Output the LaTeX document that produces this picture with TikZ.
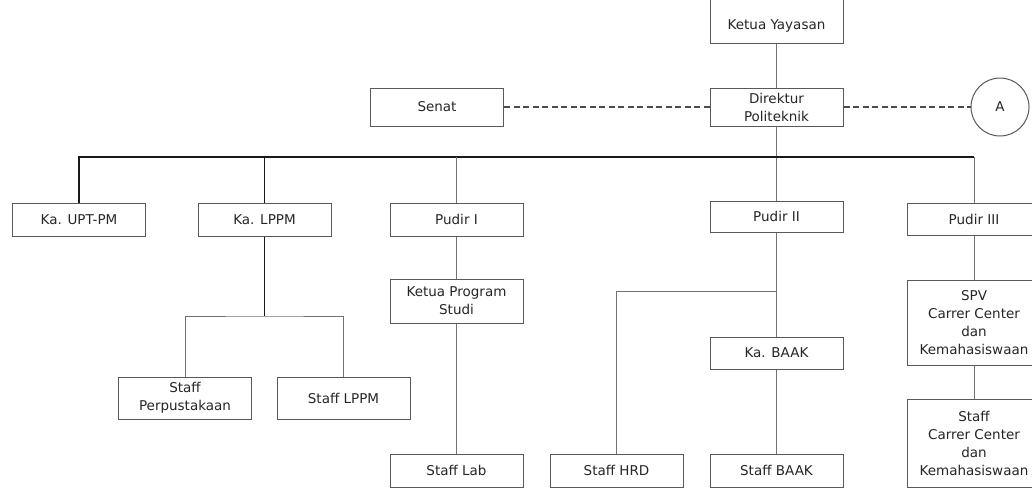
\documentclass[tikz,border=0pt]{standalone}
\usepackage{fontspec}
\setmainfont{DejaVu Sans}
\usetikzlibrary{positioning}
\begin{document}
\begin{tikzpicture}[x=1pt, y=-1pt, line/.style={draw=black!55, line width=0.9pt}, bus/.style={draw=black!90, line width=1.3pt}, dashline/.style={draw=black!70, line width=1.2pt, dash pattern=on 6pt off 3.5pt}, every node/.style={font=\fontsize{13.5}{18}\selectfont, text=black!85}]
% Define styles for unit boxes and the connector circle
\tikzstyle{unit} = [draw=black!65, line width=1pt, fill=white, rectangle, minimum width=133pt, minimum height=33pt, align=center, inner sep=2pt]
\tikzstyle{link} = [draw=black!65, line width=1pt, fill=white, circle, minimum size=58pt]

\path[use as bounding box, clip] (0,0) rectangle (1032,488);

% Nodes placement
\node [unit, minimum height=46pt, text height=22pt, text depth=3pt] (ketua) at (776.5,20) {Ketua Yayasan};
\node [unit, minimum height=38pt] (direktur) at (776.5,107) {Direktur\\Politeknik};
\node [unit, minimum height=38pt] (senat) at (437,107) {Senat};
\node [link] (A) at (1000,107) {A};

\node [unit] (upt) at (79,219.5) {Ka. UPT-PM};
\node [unit] (lppm) at (264.5,219.5) {Ka. LPPM};
\node [unit] (pudir1) at (456.5,219.5) {Pudir I};
\node [unit, minimum height=31pt] (pudir2) at (776.5,216.5) {Pudir II};
\node [unit, minimum height=32pt] (pudir3) at (974,219) {Pudir III};

\node [unit, minimum height=42pt] (perpus) at (185,398) {Staff\\Perpustakaan};
\node [unit, minimum height=42pt] (stafflppm) at (343.5,398) {Staff LPPM};
\node [unit, minimum height=44pt] (kaprodi) at (456.5,301) {Ketua Program\\Studi};
\node [unit] (stafflab) at (456.5,470.5) {Staff Lab};
\node [unit, minimum height=32pt] (kabaak) at (776.5,353) {Ka. BAAK};
\node [unit] (staffhrd) at (616.5,470.5) {Staff HRD};
\node [unit] (staffbaak) at (776.5,470.5) {Staff BAAK};
\node [unit, minimum height=85pt] (spv) at (974,322.5) {SPV\\Carrer Center\\dan\\Kemahasiswaan};
\node [unit, minimum height=88pt] (staffcc) at (974,443) {Staff\\Carrer Center\\dan\\Kemahasiswaan};

\coordinate (busR) at (974,157);
\coordinate (lppmfork) at (264.5,316);
\coordinate (hrdfork) at (776.5,291);

% Draw edges
\draw[line] (ketua) -- (direktur);
\draw[line] (direktur) -- (pudir2);
\draw[dashline] (senat) -- (direktur);
\draw[dashline] (direktur) -- (A);
\draw[bus] (upt) |- (busR);
\draw[line] (busR) -- (pudir3);
\draw[bus] (lppm) -- (lppm |- busR);
\draw[line] (pudir1) -- (pudir1 |- busR);

% Lower branches
\draw[bus] (lppm) -- (lppmfork);
\draw[line] (perpus) |- (lppmfork) -| (stafflppm);
\draw[line] (pudir1) -- (kaprodi);
\draw[line] (kaprodi) -- (stafflab);
\draw[line] (pudir2) -- (kabaak);
\draw[line] (hrdfork) -| (staffhrd);
\draw[line] (kabaak) -- (staffbaak);
\draw[line] (pudir3) -- (spv);
\draw[line] (spv) -- (staffcc);
\end{tikzpicture}
\end{document}
